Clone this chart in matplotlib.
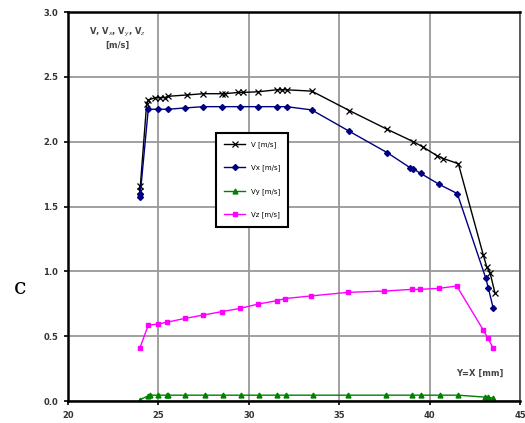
import matplotlib
matplotlib.use("Agg")
import matplotlib.pyplot as plt

# data
v_x = [23.98, 23.98, 24.35, 24.44, 24.81, 25.09, 25.36, 25.53, 26.56, 27.47,
       28.50, 28.68, 29.42, 29.70, 30.53, 31.54, 31.82, 32.09, 33.48, 35.56,
       37.66, 39.10, 39.62, 40.43, 40.76, 41.59, 42.97, 43.16, 43.34, 43.62]
v_y = [1.66, 1.62, 2.29, 2.32, 2.34, 2.34, 2.34, 2.35, 2.36, 2.37,
       2.37, 2.37, 2.38, 2.38, 2.385, 2.40, 2.40, 2.40, 2.39, 2.24,
       2.095, 2.00, 1.96, 1.89, 1.87, 1.83, 1.125, 1.035, 0.99, 0.83]

vx_x = [23.98, 23.98, 24.44, 25.00, 25.53, 26.45, 27.47, 28.50, 29.51, 30.53,
        31.54, 32.09, 33.48, 35.56, 37.66, 38.91, 39.10, 39.51, 40.54, 41.53,
        43.10, 43.25, 43.52]
vx_y = [1.60, 1.57, 2.25, 2.25, 2.25, 2.26, 2.27, 2.27, 2.27, 2.27,
        2.27, 2.27, 2.245, 2.08, 1.915, 1.80, 1.79, 1.755, 1.67, 1.60,
        0.95, 0.87, 0.715]

vy_x = [23.98, 24.44, 24.54, 24.99, 25.46, 25.55, 26.47, 27.58, 28.55, 29.57,
        30.56, 31.58, 32.06, 33.53, 35.50, 37.57, 39.04, 39.52, 40.57, 41.59,
        43.06, 43.25, 43.52]
vy_y = [0.01, 0.04, 0.045, 0.045, 0.045, 0.045, 0.045, 0.045, 0.045, 0.045,
        0.045, 0.045, 0.045, 0.045, 0.045, 0.045, 0.045, 0.045, 0.045, 0.045,
        0.03, 0.03, 0.02]

vz_x = [23.98, 24.44, 24.99, 25.46, 26.47, 27.49, 28.50, 29.51, 30.53, 31.54,
        32.00, 33.42, 35.50, 37.50, 39.01, 39.47, 40.54, 41.50, 42.97, 43.21,
        43.52]
vz_y = [0.41, 0.585, 0.594, 0.607, 0.637, 0.663, 0.689, 0.714, 0.748, 0.773,
        0.79, 0.81, 0.838, 0.848, 0.861, 0.861, 0.869, 0.887, 0.547, 0.488,
        0.406]

x_ticks = [20, 25, 30, 35, 40, 45]
y_ticks = [0.0, 0.5, 1.0, 1.5, 2.0, 2.5, 3.0]

fig = plt.figure(figsize=(5.25, 4.23), dpi=100)
ax = fig.add_axes([0.1295, 0.052, 0.861, 0.9196])

ax.plot(v_x, v_y, color="black", lw=1.0, marker="x", ms=4, mew=0.9,
        label="V [m/s]")
ax.plot(vx_x, vx_y, color="#000080", lw=1.0, marker="D", ms=3,
        label="Vx [m/s]")
ax.plot(vy_x, vy_y, color="#008000", lw=1.0, marker="^", ms=3.5,
        label="Vy [m/s]")
ax.plot(vz_x, vz_y, color="#ff00ff", lw=1.0, marker="s", ms=3.5,
        label="Vz [m/s]")

ax.set_xlim(20, 45)
ax.set_ylim(0, 3)
ax.set_xticks(x_ticks)
ax.set_yticks(y_ticks)
ax.set_xticklabels([str(t) for t in x_ticks])
ax.set_yticklabels([f"{t:.1f}" for t in y_ticks])
ax.tick_params(labelsize=6, length=3, width=1.2, pad=4)
for lab in ax.get_xticklabels() + ax.get_yticklabels():
    lab.set_fontweight("bold")
    lab.set_color("#333333")

ax.grid(True, color="#999999", lw=1.3)
ax.set_axisbelow(True)
for side in ["left", "bottom", "top"]:
    ax.spines[side].set_linewidth(1.8)
    ax.spines[side].set_color("black")
ax.spines["right"].set_linewidth(1.3)
ax.spines["right"].set_color("#555555")

ax.text(0.11, 0.965, "V, V$_x$, V$_y$, V$_z$\n[m/s]", transform=ax.transAxes,
        ha="center", va="top", fontsize=6, fontweight="bold", color="#444444",
        linespacing=1.3)
ax.text(0.91, 0.07, "Y=X [mm]", transform=ax.transAxes, ha="center",
        va="center", fontsize=6, fontweight="bold", color="#444444")

leg = ax.legend(loc="upper left", bbox_to_anchor=(0.327, 0.689),
                fontsize=5, frameon=True, fancybox=False, labelspacing=2.4,
                handlelength=3, borderpad=1.2, borderaxespad=0)
leg.get_frame().set_edgecolor("black")
leg.get_frame().set_linewidth(1.5)
leg.get_frame().set_alpha(1)

fig.text(0.027, 0.32, "c", family="DejaVu Serif", fontsize=16,
         ha="left", va="center")

fig.savefig("out.png", dpi=100)
